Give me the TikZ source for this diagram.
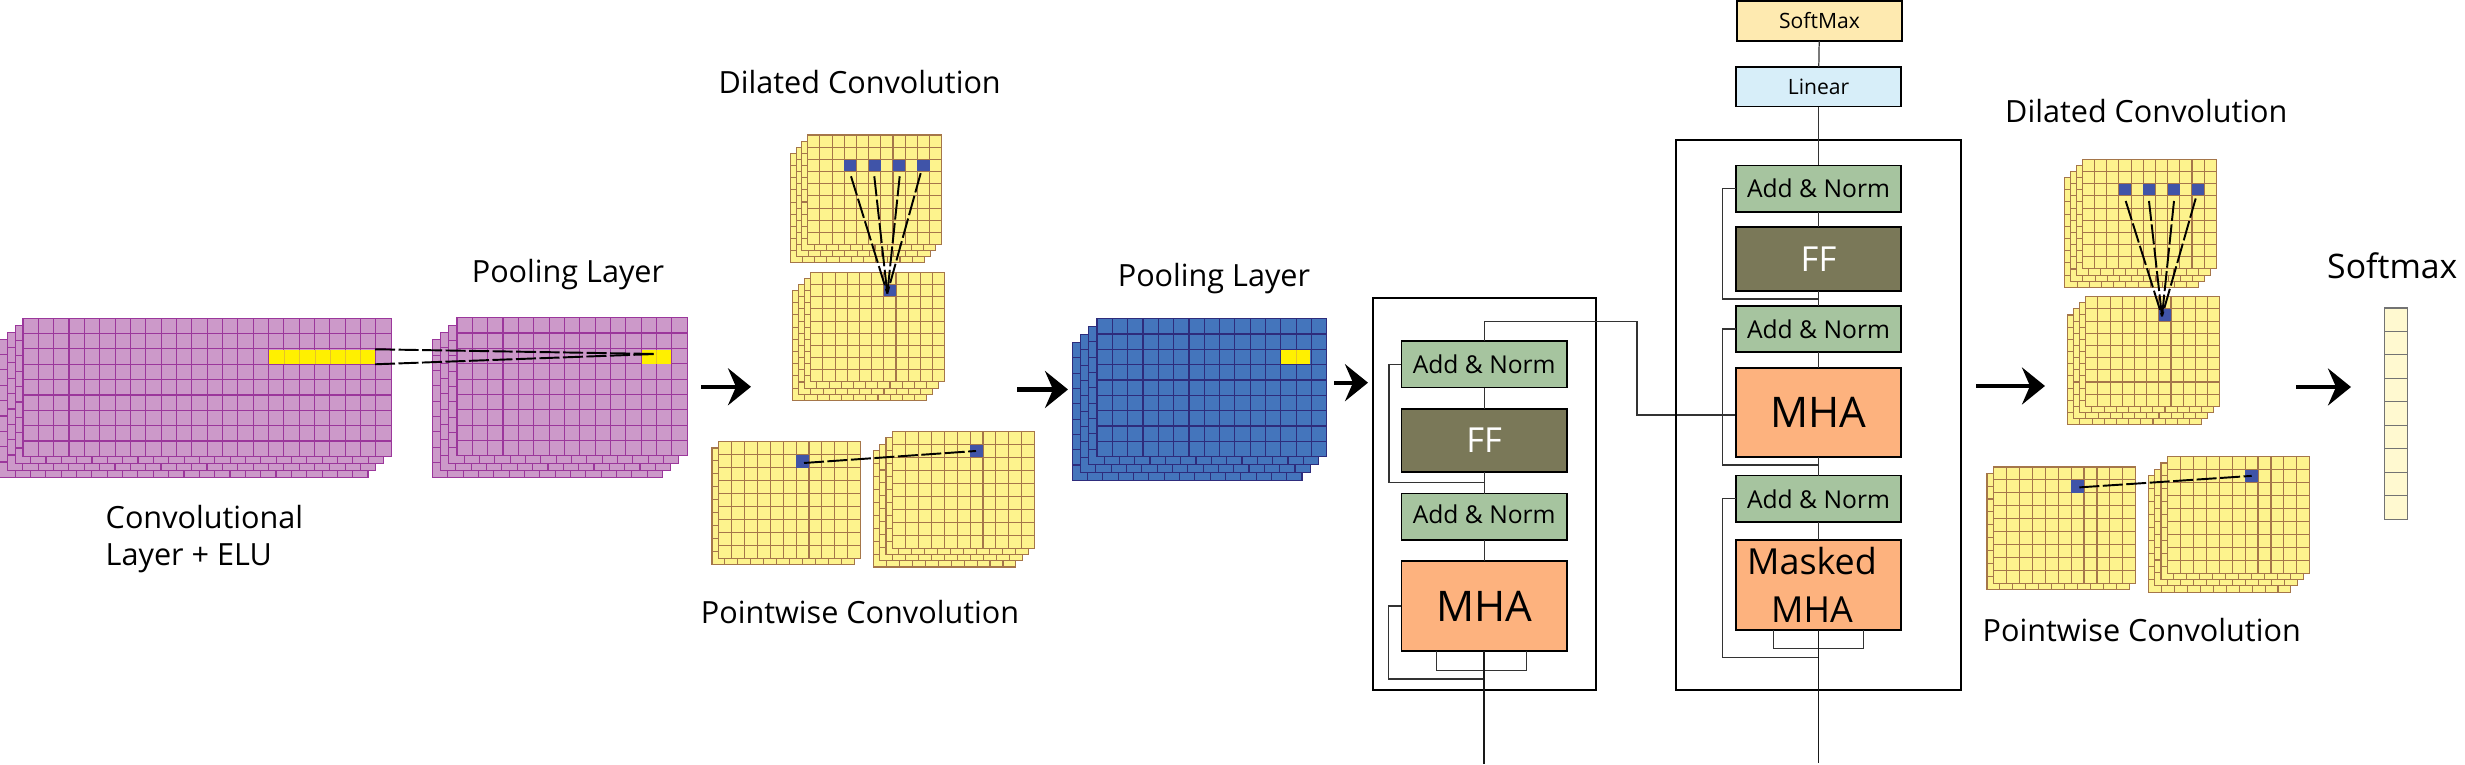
\documentclass[tikz,border=0pt]{standalone}
\usepackage{fontspec}
\setmainfont{Open Sans}
\usetikzlibrary{arrows.meta}
\definecolor{purplecell}{RGB}{204,153,201}
\definecolor{purpleline}{RGB}{155,55,155}
\definecolor{sandcell}{RGB}{253,243,141}
\definecolor{sandline}{RGB}{165,118,74}
\definecolor{bluecell}{RGB}{68,117,188}
\definecolor{blueline}{RGB}{46,44,124}
\definecolor{markblue}{RGB}{64,84,168}
\definecolor{markyellow}{RGB}{255,240,0}
\definecolor{normgreen}{RGB}{166,196,159}
\definecolor{ffolive}{RGB}{122,120,88}
\definecolor{mhaorange}{RGB}{253,178,126}
\definecolor{softsand}{RGB}{254,234,176}
\definecolor{linearsky}{RGB}{215,238,249}
\definecolor{stripcell}{RGB}{255,249,208}
\tikzset{
    purplegrid/.style={draw=purpleline,fill=purplecell,line width=0.3pt},
    sandgrid/.style={draw=sandline,fill=sandcell,line width=0.3pt},
    bluegrid/.style={draw=blueline,fill=bluecell,line width=0.3pt},
    stripgrid/.style={draw=black!55,fill=stripcell,line width=0.3pt},
    blockbox/.style={draw=black,line width=0.5pt,inner sep=0pt,outer sep=0pt,minimum width=1.655cm},
    normbox/.style={blockbox,fill=normgreen,minimum height=0.465cm,font=\fontsize{7}{8}\selectfont},
    ffbox/.style={blockbox,fill=ffolive,text=white,minimum height=0.637cm,font=\fontsize{9.8}{11}\selectfont},
    mhabox/.style={blockbox,fill=mhaorange,font=\fontsize{12}{14}\selectfont},
    headbox/.style={blockbox,minimum height=0.397cm,font=\fontsize{6}{7}\selectfont},
    wrapbox/.style={draw=black,line width=0.6pt},
    wire/.style={draw=black!80,line width=0.35pt},
    feedwire/.style={draw=black!90,line width=0.45pt},
    dashwire/.style={draw=black,line width=0.55pt,dash pattern=on 0.2cm off 0.035cm},
    title/.style={font=\fontsize{8.7}{10}\selectfont,inner sep=0pt},
    stepflow/.style={line width=1.15pt,-{Stealth[length=0.23cm,width=0.37cm,inset=0.08cm]}},
    markline/.style={draw=markyellow!75!purpleline,line width=0.25pt},
}
\newcommand{\cellstack}[9]{%
    \foreach \l in {#6,...,0} {
        \begin{scope}[shift={(#1-\l*#7,#2+\l*#8)},x=#5,y=#5]
            \draw[#9] (0,0) rectangle (#3,-#4);
            \draw[#9,fill=none,step=1] (0,-#4) grid (#3,0);
        \end{scope}
    }
}
\begin{document}
\begin{tikzpicture}[x=0.01cm,y=-0.01cm]
    \useasboundingbox (0,0) rectangle (2465,765);

    \cellstack{23}{318.3}{24}{9}{0.1533cm}{3}{7.7}{7.0}{purplegrid}
    \cellstack{457}{317.7}{15}{9}{0.1533cm}{3}{8.2}{7.4}{purplegrid}
    \fill[markyellow] (268.5,349.6) rectangle (375,364.2);
    \fill[markyellow] (641.5,349.6) rectangle (671,364.2);
    \foreach \c in {284,299.5,315,330,345.5,360.5} {
        \draw[markline] (\c,349.6) -- (\c,364.2);
    }
    \draw[markline] (656,349.6) -- (656,364.2);
    \coordinate (convA) at (375,349.3);
    \coordinate (convB) at (375,364.3);
    \coordinate (poolA) at (656.5,354);
    \draw[dashwire] (convA) -- (poolA);
    \draw[dashwire] (convB) -- (poolA);
    \node[title,anchor=west] (convtop) at (105,517) {Convolutional};
    \node[title,anchor=west] (convbot) at (105,558) {Layer + ELU};
    \node[title] (poollabA) at (568,275) {Pooling Layer};

    \coordinate (flowAs) at (701,386.8);
    \coordinate (flowAe) at (751,386.8);
    \draw[stepflow] (flowAs) -- (flowAe);

    \cellstack{807.7}{135}{11}{9}{0.1218cm}{3}{5.8}{6.1}{sandgrid}
    \cellstack{810.7}{272.3}{11}{9}{0.1218cm}{3}{6.0}{6.1}{sandgrid}
    \foreach \c in {3,5,7,9} {
        \fill[markblue] (807.7+\c*12.18,159.6) rectangle ++(12.18,11.6);
    }
    \fill[markblue] (883.8,284.7) rectangle ++(12.18,11.8);
    \coordinate (dilA) at (851,176.3);
    \coordinate (dilB) at (874.3,176.3);
    \coordinate (dilC) at (899.7,176.3);
    \coordinate (dilD) at (920.7,173.2);
    \coordinate (dilE) at (887.3,293.4);
    \foreach \c in {dilA,dilB,dilC,dilD} {
        \draw[dashwire] (\c) -- (dilE);
    }
    \node[title] (dillabA) at (859.7,82.5) {Dilated Convolution};

    \cellstack{718.3}{441.9}{11}{9}{0.1295cm}{1}{6.3}{6.1}{sandgrid}
    \cellstack{892.3}{431.5}{11}{9}{0.1295cm}{3}{6.3}{6.3}{sandgrid}
    \fill[markblue] (796,455) rectangle ++(12.95,12.6);
    \fill[markblue] (970,444.6) rectangle ++(12.95,12.6);
    \coordinate (ptwA) at (804,463);
    \coordinate (ptwB) at (976,451);
    \draw[dashwire] (ptwA) -- (ptwB);
    \node[title] (ptwlabA) at (860,611.8) {Pointwise Convolution};

    \coordinate (flowBs) at (1017,389.5);
    \coordinate (flowBe) at (1068,389.5);
    \draw[stepflow] (flowBs) -- (flowBe);

    \cellstack{1097}{318.7}{15}{9}{0.1532cm}{3}{8.3}{7.9}{bluegrid}
    \fill[markyellow] (1281,350) rectangle (1310,364);
    \draw[markline] (1296,350) -- (1296,364);
    \node[title] (poollabB) at (1214,279) {Pooling Layer};

    \coordinate (flowCs) at (1334,382.7);
    \coordinate (flowCe) at (1368,382.7);
    \draw[stepflow] (flowCs) -- (flowCe);

    \draw[wrapbox] (1373.2,297.7) rectangle (1595.7,690);
    \node[normbox] (enAddA) at (1484.2,364.3) {Add \& Norm};
    \node[ffbox,minimum height=0.636cm] (enFF) at (1484.2,440.5) {FF};
    \node[normbox] (enAddB) at (1484.2,516.8) {\raisebox{0.05cm}{Add \& Norm}};
    \node[mhabox,minimum height=0.894cm] (enMHA) at (1484.2,606) {MHA};
    \coordinate (enIn) at (1484.2,764);
    \coordinate (enSkipA) at (1484.2,482.7);
    \coordinate (enSkipB) at (1484.2,679);
    \coordinate (enLoopA) at (1436.8,670.3);
    \coordinate (enLoopB) at (1526.4,670.3);
    \coordinate (crossA) at (1484.2,321.7);
    \coordinate (crossB) at (1637,321.7);
    \coordinate (crossC) at (1637,415);
    \coordinate (crossD) at (1736,415);
    \draw[wire] (enAddA) -- (enFF);
    \draw[wire] (enFF) -- (enAddB);
    \draw[wire] (enAddB) -- (enMHA);
    \draw[wire] (enAddA.west) -- ++(-12.4,0) |- (enSkipA);
    \draw[wire] (enMHA.west) -- ++(-12.8,0) |- (enSkipB);
    \draw[wire] (enLoopA |- enMHA.south) -- (enLoopA) -- (enLoopB) -- (enLoopB |- enMHA.south);
    \draw[feedwire] (enMHA.south) -- (enIn);
    \draw[wire] (enAddA.north) -- (crossA) -- (crossB) -- (crossC) -- (crossD);

    \node[headbox,fill=softsand] (deSoft) at (1819.5,21) {SoftMax};
    \node[headbox,fill=linearsky] (deLinear) at (1818.5,86.7) {Linear};
    \draw[wrapbox] (1676,140) rectangle (1961,690);
    \node[normbox] (deAddA) at (1818.5,188.7) {Add \& Norm};
    \node[ffbox] (deFF) at (1818.5,258.8) {FF};
    \node[normbox] (deAddB) at (1818.5,329) {Add \& Norm};
    \node[mhabox,minimum height=0.893cm] (deMHA) at (1818.5,412.7) {MHA};
    \node[normbox] (deAddC) at (1818.5,498.8) {Add \& Norm};
    \node[mhabox,minimum height=0.897cm,label={[align=center,xshift=-0.065cm,font=\fontsize{10.2}{13.5}\selectfont]center:Masked\\MHA}] (deMask) at (1818.5,584.8) {};
    \coordinate (deIn) at (1818.5,763);
    \coordinate (deSkipA) at (1818.5,299);
    \coordinate (deSkipB) at (1818.5,465);
    \coordinate (deSkipC) at (1818.5,657.3);
    \coordinate (deLoopA) at (1773.7,648.7);
    \coordinate (deLoopB) at (1863.3,648.7);
    \draw[wire] (deSoft) -- (deLinear);
    \draw[wire] (deLinear) -- (deAddA);
    \draw[wire] (deAddA) -- (deFF);
    \draw[wire] (deFF) -- (deAddB);
    \draw[wire] (deAddB) -- (deMHA);
    \draw[wire] (deMHA) -- (deAddC);
    \draw[wire] (deAddC) -- (deMask);
    \draw[wire] (deAddA.west) -- ++(-13,0) |- (deSkipA);
    \draw[wire] (deAddB.west) -- ++(-13,0) |- (deSkipB);
    \draw[wire] (deAddC.west) -- ++(-13,0) |- (deSkipC);
    \draw[wire] (deLoopA |- deMask.south) -- (deLoopA) -- (deLoopB) -- (deLoopB |- deMask.south);
    \draw[feedwire] (deMask.south) -- (deIn);

    \coordinate (flowDs) at (1976,386);
    \coordinate (flowDe) at (2045,386);
    \draw[stepflow] (flowDs) -- (flowDe);

    \cellstack{2082.3}{159.3}{11}{9}{0.1218cm}{3}{5.8}{6.1}{sandgrid}
    \cellstack{2085.7}{296.7}{11}{9}{0.1218cm}{3}{6.0}{6.1}{sandgrid}
    \foreach \c in {3,5,7,9} {
        \fill[markblue] (2082.3+\c*12.18,183.9) rectangle ++(12.18,11.6);
    }
    \fill[markblue] (2158.8,309.1) rectangle ++(12.18,11.8);
    \coordinate (dilF) at (2125.7,201);
    \coordinate (dilG) at (2149,201);
    \coordinate (dilH) at (2174,201);
    \coordinate (dilI) at (2195.7,198.5);
    \coordinate (dilJ) at (2162,316.3);
    \foreach \c in {dilF,dilG,dilH,dilI} {
        \draw[dashwire] (\c) -- (dilJ);
    }
    \node[title] (dillabB) at (2146.3,111.5) {Dilated Convolution};

    \cellstack{1993.3}{467}{11}{9}{0.1295cm}{1}{6.3}{6.1}{sandgrid}
    \cellstack{2167.3}{456.7}{11}{9}{0.1295cm}{3}{6.3}{6.3}{sandgrid}
    \fill[markblue] (2071,480.1) rectangle ++(12.95,12.6);
    \fill[markblue] (2245,469.8) rectangle ++(12.95,12.6);
    \coordinate (ptwC) at (2079.3,487.4);
    \coordinate (ptwD) at (2251.7,475.9);
    \draw[dashwire] (ptwC) -- (ptwD);
    \node[title] (ptwlabB) at (2141.7,630) {Pointwise Convolution};

    \coordinate (flowEs) at (2296,387);
    \coordinate (flowEe) at (2351,387);
    \draw[stepflow] (flowEs) -- (flowEe);

    \cellstack{2384.3}{308}{1}{9}{0.2345cm}{0}{0}{0}{stripgrid}
    \node[title,font=\fontsize{9.6}{11}\selectfont] (softlab) at (2392.3,266) {Softmax};
\end{tikzpicture}
\end{document}
